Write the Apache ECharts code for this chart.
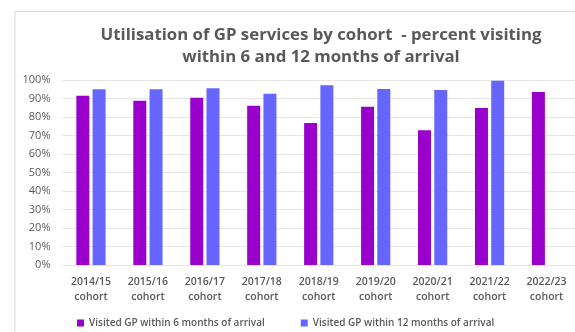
<!DOCTYPE html>
<html><head><meta charset="utf-8">
<script src="https://cdn.jsdelivr.net/npm/echarts@6/dist/echarts.min.js"></script>
<style>html,body{margin:0;padding:0;background:#fff}#c{width:575px;height:332px}</style>
</head><body><div id="c"></div>
<script>
const categories = ['2014/15\ncohort','2015/16\ncohort','2016/17\ncohort','2017/18\ncohort','2018/19\ncohort','2019/20\ncohort','2020/21\ncohort','2021/22\ncohort','2022/23\ncohort'];
const visited6 = [91.5, 88.8, 90.4, 86.1, 76.8, 85.6, 72.8, 84.9, 93.5];
const visited12 = [95.0, 95.0, 95.5, 92.6, 97.1, 95.1, 94.6, 99.6, null];
const seriesNames = ['Visited GP within 6 months of arrival', 'Visited GP within 12 months of arrival'];
const yTicks = {min: 0, max: 100, interval: 10};
const titleText = 'Utilisation of GP services by cohort  - percent visiting\nwithin 6 and 12 months of arrival';

const font = '"Open Sans", "Noto Sans", sans-serif';
const chart = echarts.init(document.getElementById('c'));
chart.setOption({
  animation: false,
  textStyle: {fontFamily: font},
  graphic: [{type: 'polyline', shape: {points: [[15, 332], [15, 11.5], [575, 11.5]]}, style: {stroke: '#d9d9d9', lineWidth: 1, fill: null}}],
  title: {text: titleText, left: 316, top: 19, textAlign: 'center',
    textStyle: {fontFamily: font, fontSize: 16.8, fontWeight: 'bold', color: '#595959', lineHeight: 22}},
  legend: {bottom: -1, left: 72, itemWidth: 7, itemHeight: 7, itemGap: 36, icon: 'rect',
    textStyle: {fontFamily: font, fontSize: 10, color: '#595959', fontWeight: 600}},
  grid: {left: 62.5, right: -6.5, top: 80, bottom: 67},
  xAxis: {type: 'category', data: categories,
    axisLine: {show: false}, axisTick: {show: false},
    axisLabel: {interval: 0, color: '#595959', fontSize: 10.5, fontWeight: 600, lineHeight: 15, margin: 10, fontFamily: font}},
  yAxis: {type: 'value', min: yTicks.min, max: yTicks.max, interval: yTicks.interval,
    axisLabel: {formatter: '{value}%', color: '#595959', fontSize: 11, margin: 12, fontFamily: font},
    splitLine: {lineStyle: {color: '#e6e6e6', width: 1}}},
  series: [
    {name: seriesNames[0], type: 'bar', data: visited6, barWidth: 13, barGap: '25%', itemStyle: {color: '#9900CC'}},
    {name: seriesNames[1], type: 'bar', data: visited12, barWidth: 13, itemStyle: {color: '#6666FF'}}
  ]
});
</script></body></html>
